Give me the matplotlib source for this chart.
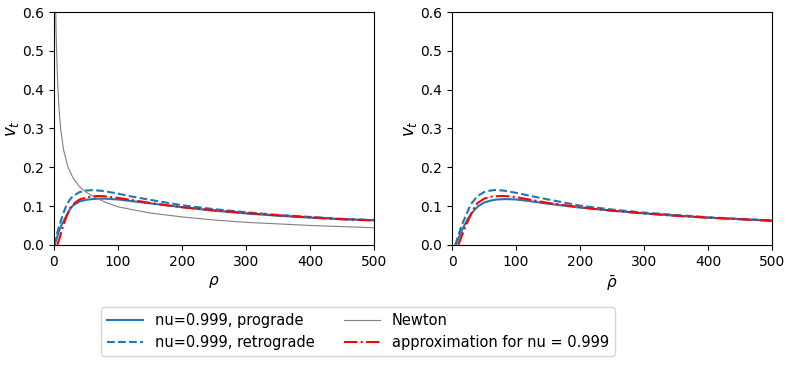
import matplotlib
matplotlib.use("Agg")
import matplotlib.pyplot as plt

# ---- data ----
newton_rho = [2.9, 3.4, 4.2, 5.1, 6.3, 8, 10.4, 15, 22, 30, 40, 50, 60, 80, 100, 150, 200, 250, 300, 400, 500]
newton_v = [0.60, 0.55, 0.50, 0.45, 0.40, 0.35, 0.30, 0.245, 0.20, 0.172, 0.150, 0.136, 0.126,
            0.110, 0.098, 0.082, 0.072, 0.064, 0.058, 0.050, 0.044]

pro_rho = [1, 5, 8, 11.5, 15, 20, 25, 30, 40, 50, 60, 70, 80, 90, 100, 120, 150, 200, 250, 300, 350, 400, 450, 500]
pro_v = [0.0, 0.020, 0.036, 0.050, 0.061, 0.076, 0.092, 0.102, 0.112, 0.116, 0.118, 0.119, 0.119, 0.118,
         0.117, 0.113, 0.107, 0.097, 0.088, 0.081, 0.075, 0.070, 0.066, 0.063]

retro_rho = [0.5, 5, 8.3, 10, 15, 20, 25, 30, 40, 50, 60, 70, 80, 100, 120, 150, 200, 250, 300, 350, 400, 450, 500]
retro_v = [0.0, 0.030, 0.050, 0.058, 0.083, 0.104, 0.117, 0.126, 0.136, 0.140, 0.141, 0.140, 0.138, 0.132,
           0.125, 0.116, 0.102, 0.092, 0.084, 0.077, 0.072, 0.067, 0.064]

approx_rho = [5.2, 8, 10, 14.6, 20, 25, 30, 40, 50, 60, 70, 80, 100, 120, 150, 200, 250, 300, 350, 400, 450, 500]
approx_v = [0.0, 0.013, 0.024, 0.050, 0.075, 0.094, 0.105, 0.117, 0.122, 0.125, 0.126, 0.125, 0.121,
            0.116, 0.108, 0.097, 0.089, 0.082, 0.076, 0.071, 0.066, 0.063]

pro_rbar = [6, 10, 15, 19.3, 25, 30, 35, 41, 50, 60, 70, 85, 100, 120, 150, 200, 250, 300, 350, 400, 450, 500]
pro_v2 = [0.0, 0.016, 0.036, 0.050, 0.068, 0.080, 0.090, 0.100, 0.109, 0.114, 0.117, 0.118, 0.117,
          0.113, 0.106, 0.096, 0.088, 0.081, 0.075, 0.070, 0.066, 0.062]

retro_rbar = [5, 10, 15, 20, 25, 28, 30, 40, 50, 60, 67, 80, 100, 120, 150, 200, 250, 300, 350, 400, 450, 500]
retro_v2 = [0.0, 0.025, 0.050, 0.069, 0.088, 0.100, 0.106, 0.126, 0.136, 0.140, 0.1414, 0.140, 0.134,
            0.127, 0.117, 0.101, 0.091, 0.083, 0.077, 0.071, 0.067, 0.063]

approx_rbar = [10, 15, 20, 25, 30, 36, 40, 50, 60, 75, 90, 100, 120, 150, 200, 250, 300, 350, 400, 450, 500]
approx_v2 = [0.0, 0.022, 0.043, 0.062, 0.080, 0.100, 0.108, 0.119, 0.124, 0.126, 0.125, 0.123, 0.117,
             0.108, 0.097, 0.088, 0.081, 0.075, 0.070, 0.066, 0.062]

labels = ["nu=0.999, prograde", "nu=0.999, retrograde", "Newton", "approximation for nu = 0.999"]

# ---- figure ----
fig = plt.figure(figsize=(7.93, 3.66), dpi=100)
ax1 = fig.add_axes([0.068, 0.331, 0.404, 0.636])
ax2 = fig.add_axes([0.570, 0.331, 0.404, 0.636])

blue = "#1f77b4"
l1, = ax1.plot(pro_rho, pro_v, color=blue, lw=1.5)
l2, = ax1.plot(retro_rho, retro_v, color=blue, ls="--", lw=1.5)
l3, = ax1.plot(newton_rho, newton_v, color="grey", lw=0.8)
l4, = ax1.plot(approx_rho, approx_v, color="red", ls="-.", lw=1.5)

ax2.plot(pro_rbar, pro_v2, color=blue, lw=1.5)
ax2.plot(retro_rbar, retro_v2, color=blue, ls="--", lw=1.5)
ax2.plot(approx_rbar, approx_v2, color="red", ls="-.", lw=1.5)

for ax, xl in ((ax1, r"$\rho$"), (ax2, r"$\bar{\rho}$")):
    ax.set_xlim(0, 500)
    ax.set_ylim(0, 0.6)
    ax.set_xticks([0, 100, 200, 300, 400, 500])
    ax.set_yticks([0.0, 0.1, 0.2, 0.3, 0.4, 0.5, 0.6])
    ax.tick_params(labelsize=10)
    ax.set_xlabel(xl, fontsize=11)
    ax.set_ylabel(r"$v_t$", fontsize=12, labelpad=1)

fig.legend([l1, l2, l3, l4], labels, ncol=2, loc="center", bbox_to_anchor=(0.4515, 0.094),
           fontsize=10.5, columnspacing=2.0, handlelength=2.5)

fig.savefig("out.png", dpi=100)
